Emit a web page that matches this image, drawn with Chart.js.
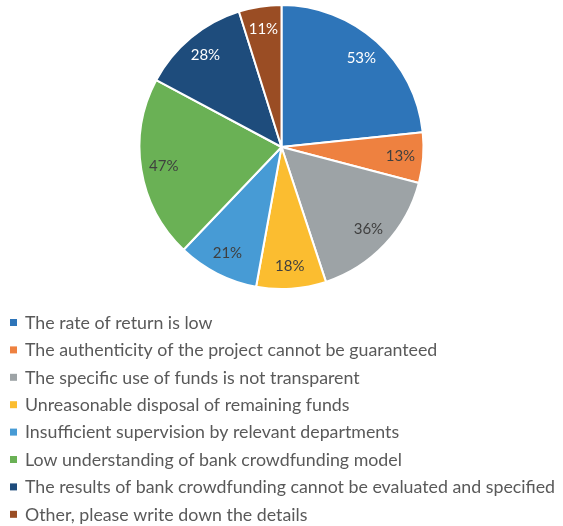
<!DOCTYPE html>
<html>
<head>
<meta charset="utf-8">
<script src="https://cdn.jsdelivr.net/npm/chart.js@4.4.1/dist/chart.umd.min.js"></script>
<style>
  html, body { margin: 0; padding: 0; background: #fff; }
  canvas { display: block; }
</style>
</head>
<body>
<canvas id="chart" width="563" height="526"></canvas>
<script>
const categories = [
  'The rate of return is low',
  'The authenticity of the project cannot be guaranteed',
  'The specific use of funds is not transparent',
  'Unreasonable disposal of remaining funds',
  'Insufficient supervision by relevant departments',
  'Low understanding of bank crowdfunding model',
  'The results of bank crowdfunding cannot be evaluated and specified',
  'Other, please write down the details',
];
const shares = [53, 13, 36, 18, 21, 47, 28, 11];
const sliceColors = ['#2e75b9', '#ee8140', '#9da3a6', '#fbbd30', '#479bd5', '#6ab155', '#1e4c7c', '#9a4d24'];
const labelColors = ['#ffffff', '#3f3f3f', '#3f3f3f', '#3f3f3f', '#3f3f3f', '#3f3f3f', '#ffffff', '#ffffff'];

const FONT = 'Lato, "Open Sans", sans-serif';

// percentage text inside each slice
const sliceLabels = {
  id: 'sliceLabels',
  afterDatasetsDraw(chart) {
    const { ctx } = chart;
    const meta = chart.getDatasetMeta(0);
    ctx.save();
    ctx.font = '15px ' + FONT;
    ctx.textAlign = 'center';
    ctx.textBaseline = 'middle';
    meta.data.forEach((arc, i) => {
      const { x, y, startAngle, endAngle, outerRadius } = arc.getProps(['x', 'y', 'startAngle', 'endAngle', 'outerRadius'], true);
      const mid = (startAngle + endAngle) / 2;
      const r = outerRadius * 0.84;
      ctx.fillStyle = labelColors[i];
      ctx.fillText(shares[i] + '%', x + Math.cos(mid) * r, y + Math.sin(mid) * r);
    });
    ctx.restore();
  },
};

// one-column legend under the pie
const columnLegend = {
  id: 'columnLegend',
  afterDraw(chart) {
    const { ctx } = chart;
    ctx.save();
    ctx.font = '17.8px ' + FONT;
    ctx.textBaseline = 'middle';
    categories.forEach((name, i) => {
      const y = 322.5 + i * 27.4;
      ctx.fillStyle = sliceColors[i];
      ctx.fillRect(10, y - 3.5, 7, 7);
      ctx.fillStyle = '#595959';
      ctx.fillText(name, 25, y + 0.5);
    });
    ctx.restore();
  },
};

new Chart(document.getElementById('chart'), {
  type: 'pie',
  data: {
    labels: categories,
    datasets: [{
      data: shares,
      backgroundColor: sliceColors,
      borderColor: '#ffffff',
      borderWidth: 2,
    }],
  },
  options: {
    responsive: false,
    animation: false,
    events: [],
    layout: { padding: { top: 4, bottom: 236, left: 0, right: 0 } },
    plugins: {
      legend: { display: false },
      tooltip: { enabled: false },
    },
  },
  plugins: [sliceLabels, columnLegend],
});
</script>
</body>
</html>
